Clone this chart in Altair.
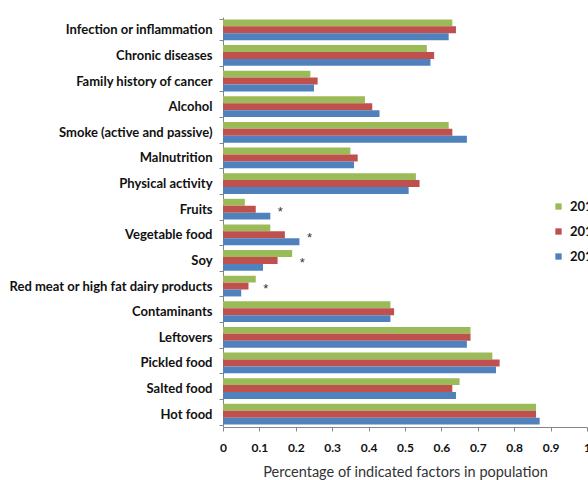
import altair as alt
import pandas as pd

# Risk factors, top to bottom
categories = [
    "Infection or inflammation",
    "Chronic diseases",
    "Family history of cancer",
    "Alcohol",
    "Smoke (active and passive)",
    "Malnutrition",
    "Physical activity",
    "Fruits",
    "Vegetable food",
    "Soy",
    "Red meat or high fat dairy products",
    "Contaminants",
    "Leftovers",
    "Pickled food",
    "Salted food",
    "Hot food",
]

# Share of population per survey year
series_names = ["2013", "2012", "2011"]
series_colors = ["#9BBB59", "#C0504D", "#4F81BD"]

values_2013 = [0.63, 0.56, 0.24, 0.39, 0.62, 0.35, 0.53, 0.06, 0.13, 0.19, 0.09, 0.46, 0.68, 0.74, 0.65, 0.86]
values_2012 = [0.64, 0.58, 0.26, 0.41, 0.63, 0.37, 0.54, 0.09, 0.17, 0.15, 0.07, 0.47, 0.68, 0.76, 0.63, 0.86]
values_2011 = [0.62, 0.57, 0.25, 0.43, 0.67, 0.36, 0.51, 0.13, 0.21, 0.11, 0.05, 0.46, 0.67, 0.75, 0.64, 0.87]

# Factors with a significant change between years
significant = ["Fruits", "Vegetable food", "Soy", "Red meat or high fat dairy products"]

x_ticks = [0, 0.1, 0.2, 0.3, 0.4, 0.5, 0.6, 0.7, 0.8, 0.9, 1]

rows = []
for name, vals in zip(series_names, [values_2013, values_2012, values_2011]):
    for cat, v in zip(categories, vals):
        rows.append({"factor": cat, "series": name, "value": v})
df = pd.DataFrame(rows)

star_rows = []
for cat in significant:
    i = categories.index(cat)
    star_rows.append({
        "factor": cat,
        "value": max(values_2013[i], values_2012[i], values_2011[i]),
        "mark": "*",
    })
stars_df = pd.DataFrame(star_rows)

y_scale = alt.Scale(domain=categories, paddingInner=0.19, paddingOuter=0.095)
x_scale = alt.Scale(domain=[0, 1], nice=False)

y_axis = alt.Axis(
    tickBand="extent",
    tickSize=4,
    labelPadding=7,
    labelFontWeight="bold",
    labelFontSize=13,
    labelLimit=300,
)
x_axis = alt.Axis(
    values=x_ticks,
    labelExpr="format(datum.value, '~f')",
    tickSize=4,
    labelPadding=11,
    labelFontWeight="bold",
    labelFontSize=12,
    labelOverlap=False,
    labelFlush=False,
    titleFontSize=14.5,
    titleFontWeight="normal",
    titlePadding=12,
)
x_title = "Percentage of indicated factors in population"

bars = alt.Chart(df).mark_bar().encode(
    y=alt.Y("factor:N", sort=categories, scale=y_scale, title=None, axis=y_axis),
    x=alt.X("value:Q", scale=x_scale, title=x_title, axis=x_axis),
    yOffset=alt.YOffset("series:N", sort=series_names),
    color=alt.Color(
        "series:N",
        sort=series_names,
        scale=alt.Scale(domain=series_names, range=series_colors),
        legend=alt.Legend(
            orient="none",
            legendX=329,
            legendY=183,
            title=None,
            symbolType="square",
            symbolSize=40,
            symbolStrokeWidth=0,
            labelFontWeight="bold",
            labelFontSize=13,
            labelOffset=5,
            rowPadding=11,
            padding=0,
        ),
    ),
)

stars = alt.Chart(stars_df).mark_text(
    align="center", baseline="middle", dx=10, dy=3, fontSize=13, color="#333333"
).encode(
    y=alt.Y("factor:N", sort=categories, scale=y_scale, title=None, axis=y_axis),
    x=alt.X("value:Q", scale=x_scale, title=x_title, axis=x_axis),
    text="mark:N",
)

chart = (
    alt.layer(bars, stars)
    .properties(
        width=364,
        height=410,
        autosize=alt.AutoSizeParams(type="none"),
        padding={"left": 223, "top": 17, "right": 1, "bottom": 53},
    )
    .configure_view(stroke=None)
    .configure_axis(
        grid=False,
        domainColor="#868686",
        tickColor="#868686",
        labelColor="#111111",
        titleColor="#333333",
        labelFont="Lato",
        titleFont="Lato",
    )
    .configure_legend(labelFont="Lato", labelColor="#111111")
)

chart.save("out.html", embed_options={"renderer": "svg", "actions": False})
